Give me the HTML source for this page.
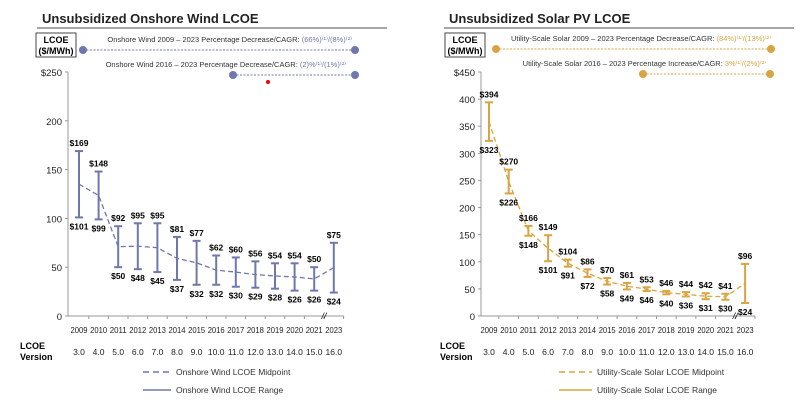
<!DOCTYPE html>
<html><head><meta charset="utf-8"><style>
body{margin:0;background:#fff;}
svg{display:block;font-family:"Liberation Sans",Arial,sans-serif;}
</style></head><body>
<svg id="c" width="800" height="409" viewBox="0 0 800 409"></svg>
<script>
const years = ['2009','2010','2011','2012','2013','2014','2015','2016','2017','2018','2019','2020','2021','2023'];
const versions = ['3.0','4.0','5.0','6.0','7.0','8.0','9.0','10.0','11.0','12.0','13.0','14.0','15.0','16.0'];
const windHigh = [169,148,92,95,95,81,77,62,60,56,54,54,50,75];
const windLow = [101,99,50,48,45,37,32,32,30,29,28,26,26,24];
const solarHigh = [394,270,166,149,104,86,70,61,53,46,44,42,41,96];
const solarLow = [323,226,148,101,91,72,58,49,46,40,36,31,30,24];
const windTicks = [0,50,100,150,200,250];
const solarTicks = [0,50,100,150,200,250,300,350,400,450];

const svg = document.getElementById('c');
const NS = 'http://www.w3.org/2000/svg';
function mk(tag, attrs, text){
  const e = document.createElementNS(NS, tag);
  for (const k in attrs) e.setAttribute(k, attrs[k]);
  if (text !== undefined) e.textContent = text;
  svg.appendChild(e);
  return e;
}

function chart(o){
  const x = i => o.x0 + i*o.dx;
  const y = v => 316 - v/o.max*244;
  let e;
  e = mk('text',{x:o.tx,y:23,'font-size':13,'font-weight':'bold',fill:'#222'},o.title);
  
  
  e = mk('line',{x1:o.tx-5,y1:28,x2:o.tx+345,y2:28,stroke:'#888','stroke-width':1.5});
  
  
  e = mk('rect',{x:o.bx,y:33,width:40,height:24,fill:'#fff',stroke:'#444','stroke-width':1});
  
  
  mk('text',{x:o.bx+20,y:43,'font-size':9,'font-weight':'bold','text-anchor':'middle'},'LCOE');
  mk('text',{x:o.bx+20,y:54,'font-size':9,'font-weight':'bold','text-anchor':'middle'},'($/MWh)');
  o.ind.forEach((d,k)=>{
    e = mk('line',{x1:d.a,y1:d.y,x2:d.b,y2:d.y,stroke:o.color,'stroke-width':1,'stroke-dasharray':'2,1.5'});
    
    
    mk('circle',{cx:d.a,cy:d.y,r:4,fill:o.color});
    mk('circle',{cx:d.b,cy:d.y,r:4,fill:o.color});
    const t = mk('text',{x:d.tx,y:d.y-8,'font-size':7.5,'text-anchor':'end',fill:'#333'});
    
    
    const s1 = document.createElementNS(NS,'tspan'); s1.textContent = d.text; t.appendChild(s1);
    const s2 = document.createElementNS(NS,'tspan'); s2.textContent = d.val; s2.setAttribute('fill',o.color); t.appendChild(s2);
  });
  e = mk('line',{x1:o.ax,y1:y(o.max),x2:o.ax,y2:316,stroke:'#999'});
  
  
  e = mk('line',{x1:o.ax,y1:316,x2:x(13)+10,y2:316,stroke:'#999'});
  
  
  o.ticks.forEach((v,i)=>{
    mk('line',{x1:o.ax-3,y1:y(v),x2:o.ax,y2:y(v),stroke:'#999'});
    e = mk('text',{x:o.ax-6,y:y(v)+4,'font-size':9.5,'text-anchor':'end',fill:'#222'},(i==o.ticks.length-1?'$':'')+v);
    
    
  });
  years.forEach((yr,i)=>{
    mk('line',{x1:x(i)+o.dx/2,y1:316,x2:x(i)+o.dx/2,y2:319,stroke:'#999'});
    e = mk('text',{x:x(i)-8.5,y:333,'font-size':8.5,textLength:17,lengthAdjust:'spacingAndGlyphs',fill:'#222'},yr);
    
    
    e = mk('text',{x:x(i),y:355,'font-size':8.5,'text-anchor':'middle',fill:'#222'},versions[i]);
    
    
  });
  mk('text',{x:x(12)+o.dx/2,y:319,'font-size':9,'font-style':'italic','text-anchor':'middle'},'//');
  mk('text',{x:o.vx,y:349,'font-size':9,'font-weight':'bold'},'LCOE');
  mk('text',{x:o.vx,y:360,'font-size':9,'font-weight':'bold'},'Version');
  const pts = o.high.map((h,i)=>x(i)+','+y((h+o.low[i])/2)).join(' ');
  e = mk('polyline',{points:pts,fill:'none',stroke:o.color,'stroke-width':1.3,'stroke-dasharray':'5,3'});
  
  
  o.high.forEach((h,i)=>{
    const l = o.low[i];
    e = mk('line',{x1:x(i),y1:y(h),x2:x(i),y2:y(l),stroke:o.color,'stroke-width':2});
    
    
    mk('line',{x1:x(i)-4,y1:y(h),x2:x(i)+4,y2:y(h),stroke:o.color,'stroke-width':2});
    mk('line',{x1:x(i)-4,y1:y(l),x2:x(i)+4,y2:y(l),stroke:o.color,'stroke-width':2});
    e = mk('text',{x:x(i),y:y(h)-5,'font-size':8.5,'font-weight':'bold','text-anchor':'middle'},'$'+h);
    
    
    e = mk('text',{x:x(i),y:y(l)+12,'font-size':8.5,'font-weight':'bold','text-anchor':'middle'},'$'+l);
    
    
  });
  e = mk('line',{x1:o.lx,y1:372,x2:o.lx+o.lw,y2:372,stroke:o.color,'stroke-width':1.5,'stroke-dasharray':'6,4'});
  
  
  mk('text',{x:o.lx+o.lw+5,y:375,'font-size':8.5,fill:'#333'},o.leg1);
  e = mk('line',{x1:o.lx,y1:390,x2:o.lx+o.lw,y2:390,stroke:o.color,'stroke-width':1.5});
  
  
  mk('text',{x:o.lx+o.lw+5,y:393,'font-size':8.5,fill:'#333'},o.leg2);
}

chart({key:'wind',title:'Unsubsidized Onshore Wind LCOE',tx:42,bx:36,color:'#6f78ac',
  x0:79,dx:19.6,ax:68,max:250,ticks:windTicks,high:windHigh,low:windLow,vx:20,
  ind:[{a:83,b:355,y:50,tx:352,text:'Onshore Wind 2009 – 2023 Percentage Decrease/CAGR: ',val:'(66%)⁽¹⁾/(8%)⁽²⁾'},
       {a:233,b:355,y:75,tx:346,text:'Onshore Wind 2016 – 2023 Percentage Decrease/CAGR: ',val:'(2)%⁽¹⁾/(1%)⁽²⁾'}],
  lx:143,lw:28,leg1:'Onshore Wind LCOE Midpoint',leg2:'Onshore Wind LCOE Range'});
chart({key:'solar',title:'Unsubsidized Solar PV LCOE',tx:449,bx:445,color:'#d9a441',
  x0:489,dx:19.7,ax:481,max:450,ticks:solarTicks,high:solarHigh,low:solarLow,vx:440,
  ind:[{a:496,b:771,y:49,tx:771,text:'Utility-Scale Solar 2009 – 2023 Percentage Decrease/CAGR: ',val:'(84%)⁽¹⁾/(13%)⁽²⁾'},
       {a:643,b:770,y:74,tx:766,text:'Utility-Scale Solar 2016 – 2023 Percentage Increase/CAGR: ',val:'3%⁽¹⁾/(2%)⁽²⁾'}],
  lx:559,lw:33,leg1:'Utility-Scale Solar LCOE Midpoint',leg2:'Utility-Scale Solar LCOE Range'});
mk('circle',{cx:268,cy:82,r:2,fill:'#e00'});
</script>
</body></html>
